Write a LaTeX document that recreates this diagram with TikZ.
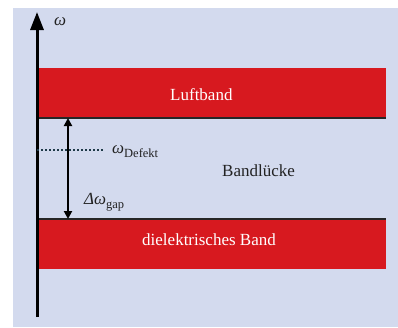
\documentclass[tikz,border=0pt]{standalone}
\usepackage{fontspec}
\setmainfont{Liberation Serif}
\usetikzlibrary{arrows.meta}
\definecolor{bg}{HTML}{D3DAEE}
\definecolor{bandred}{HTML}{D7191F}
\definecolor{dotc}{HTML}{1E3A48}
\definecolor{txtc}{HTML}{222222}
\newcommand{\sbx}[1]{\raisebox{-4.5pt}{\fontsize{12.5}{12.5}\selectfont #1}}
\begin{document}
\begin{tikzpicture}[x=1pt,y=-1pt,
  band/.style={fill=bandred, draw=none, minimum width=349pt, minimum height=50pt, anchor=north west, inner sep=0pt, outer sep=0pt},
  bandtext/.style={anchor=base west, inner sep=0pt, text=white, font=\fontsize{17}{20}\selectfont},
  lbl/.style={anchor=base west, inner sep=0pt, text=txtc, font=\fontsize{17}{20}\selectfont},
  edge/.style={line width=1.5pt, black!85},
  axis/.style={line width=3pt, -{Triangle[length=18pt,width=13pt]}},
  gaparrow/.style={line width=2pt, {Triangle[length=8pt,width=8pt]}-{Triangle[length=8pt,width=8pt]}},
  defline/.style={line width=1.8pt, dotc, dash pattern=on 2pt off 2pt}
]
\useasboundingbox (0,0) rectangle (398,327);
\fill[bg] (13,8) rectangle (398,327);
\node[band] (luft) at (37,68) {};
\node[band] (diel) at (37,219) {};
\draw[edge] (luft.south west) -- (luft.south east);
\draw[edge] (diel.north west) -- (diel.north east);
\node[bandtext] (luftt) at (170,100) {Luftband};
\node[bandtext] (dielt) at (142,245) {dielektrisches Band};
\coordinate (axbot) at (37,317);
\coordinate (axtop) at (37,12);
\draw[axis] (axbot) -- (axtop);
\coordinate (gtop) at (68,118);
\coordinate (gbot) at (68,219);
\draw[gaparrow] (gtop) -- (gbot);
\coordinate (dl) at (37,150);
\coordinate (dr) at (103,150);
\draw[defline] (dl) -- (dr);
\node[lbl] (omega) at (54,25) {\itshape ω};
\node[lbl] (wdef) at (112,153) {{\itshape ω}\sbx{Defekt}};
\node[lbl] (dgap) at (84,204) {{\itshape Δω}\sbx{gap}};
\node[lbl] (gapl) at (222,176) {Bandlücke};
\end{tikzpicture}
\end{document}
